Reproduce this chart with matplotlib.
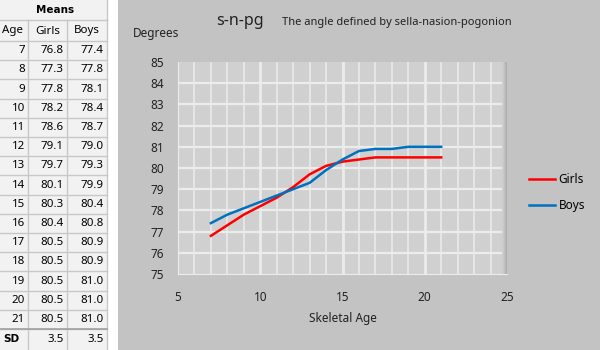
import numpy as np
import matplotlib.pyplot as plt
from matplotlib.patches import Rectangle

plt.rcParams['font.family'] = ['Noto Sans', 'DejaVu Sans']

# 数据
ages = [7, 8, 9, 10, 11, 12, 13, 14, 15, 16, 17, 18, 19, 20, 21]
girls = [76.8, 77.3, 77.8, 78.2, 78.6, 79.1, 79.7, 80.1, 80.3, 80.4, 80.5, 80.5, 80.5, 80.5, 80.5]
boys = [77.4, 77.8, 78.1, 78.4, 78.7, 79.0, 79.3, 79.9, 80.4, 80.8, 80.9, 80.9, 81.0, 81.0, 81.0]
sd_girls = 3.5
sd_boys = 3.5

x_ticks = [5, 10, 15, 20, 25]
y_ticks = [75, 76, 77, 78, 79, 80, 81, 82, 83, 84, 85]

W, H = 600, 350
fig = plt.figure(figsize=(6, 3.5), dpi=100)
fig.patch.set_facecolor('white')

# 背景：左侧表格 + 右侧图表区
bg = fig.add_axes([0, 0, 1, 1])
bg.set_xlim(0, W)
bg.set_ylim(H, 0)
bg.axis('off')
bg.add_patch(Rectangle((118, 0), W - 118, H, facecolor='#c3c3c3', edgecolor='none'))

# 表格
col_x = [0, 28, 67, 107]
row_y = [0, 20, 41] + [41 + 19.2 * (k + 1) for k in range(len(ages))] + [350]
cell_bg = '#f2f2f2'
line_c = '#c8c8c8'
bg.add_patch(Rectangle((0, 0), 107, 350, facecolor=cell_bg, edgecolor='none'))
for y in row_y[1:-1]:
    bg.plot([0, 107], [y, y], color=line_c, lw=1)
for x in col_x[1:]:
    bg.plot([x, x], [20, 350], color=line_c, lw=1)
bg.plot([107, 107], [0, 20], color=line_c, lw=1)
bg.plot([0, 107], [329.2, 329.2], color='#a0a0a0', lw=1.2)

fs = 8.3
bold = dict(family='DejaVu Sans', fontweight='bold')
bg.text(55, 10, 'Means', ha='center', va='center', fontsize=7.5, **bold)
bg.text(2, 31, 'Age', ha='left', va='center', fontsize=fs)
bg.text(48, 31, 'Girls', ha='center', va='center', fontsize=fs)
bg.text(87, 31, 'Boys', ha='center', va='center', fontsize=fs)
for i, a in enumerate(ages):
    yc = (row_y[i + 2] + row_y[i + 3]) / 2
    bg.text(25, yc, str(a), ha='right', va='center', fontsize=fs)
    bg.text(64, yc, f'{girls[i]:.1f}', ha='right', va='center', fontsize=fs)
    bg.text(104, yc, f'{boys[i]:.1f}', ha='right', va='center', fontsize=fs)
bg.text(3, 339.5, 'SD', ha='left', va='center', fontsize=7.5, **bold)
bg.text(64, 339.5, f'{sd_girls:.1f}', ha='right', va='center', fontsize=fs)
bg.text(104, 339.5, f'{sd_boys:.1f}', ha='right', va='center', fontsize=fs)

# 标题
bg.text(240, 21, 's-n-pg', ha='center', va='center', fontsize=11.5, color='#222222')
bg.text(282, 22, 'The angle defined by sella-nasion-pogonion', ha='left', va='center',
        fontsize=8, color='#222222')
bg.text(133, 34, 'Degrees', ha='left', va='center', fontsize=8.5, color='#222222')

# 绘图区
ax = fig.add_axes([178 / W, 1 - 274 / H, (507 - 178) / W, (274 - 62) / H])
ax.set_facecolor('#d0d0d0')
for v in range(6, 25):
    ax.axvline(v, color='#ececec', lw=2.0 if v % 5 == 0 else 1.1, zorder=1)
for v in y_ticks[1:-1]:
    ax.axhline(v, color='#ececec', lw=1.6, zorder=1)

# 右侧阴影
c0 = np.array([0.816, 0.816, 0.816])
c1 = np.array([0.66, 0.66, 0.66])
t = np.linspace(0, 1, 40) ** 1.5
shade = (c0[None, :] * (1 - t[:, None]) + c1[None, :] * t[:, None])[None, :, :]
ax.imshow(shade, extent=[24.72, 25, 75, 85], aspect='auto', zorder=2, interpolation='bilinear')

ax.plot(ages, girls, color='#ff0000', lw=1.8, solid_joinstyle='round', zorder=3, label='Girls')
ax.plot(ages, boys, color='#0070c0', lw=1.8, solid_joinstyle='round', zorder=3, label='Boys')
ax.set_xlim(5, 25)
ax.set_ylim(75, 85)

ax.set_xticks(x_ticks)
ax.set_yticks(y_ticks)
ax.tick_params(axis='both', length=0, labelsize=8.5, colors='#222222')
ax.tick_params(axis='x', pad=12)
ax.tick_params(axis='y', pad=10)
for s in ax.spines.values():
    s.set_visible(False)
ax.spines['left'].set_visible(True)
ax.spines['bottom'].set_visible(True)
ax.spines['left'].set_color('#ececec')
ax.spines['bottom'].set_color('#ececec')
ax.set_xlabel('Skeletal Age', fontsize=8.5, color='#222222', labelpad=6)

leg = ax.legend(loc='center left', bbox_to_anchor=(1.035, 0.385), frameon=False,
                fontsize=8.5, handlelength=2.2, labelspacing=1.1, handletextpad=0.3)

fig.savefig('out.png', dpi=100, facecolor=fig.get_facecolor())
